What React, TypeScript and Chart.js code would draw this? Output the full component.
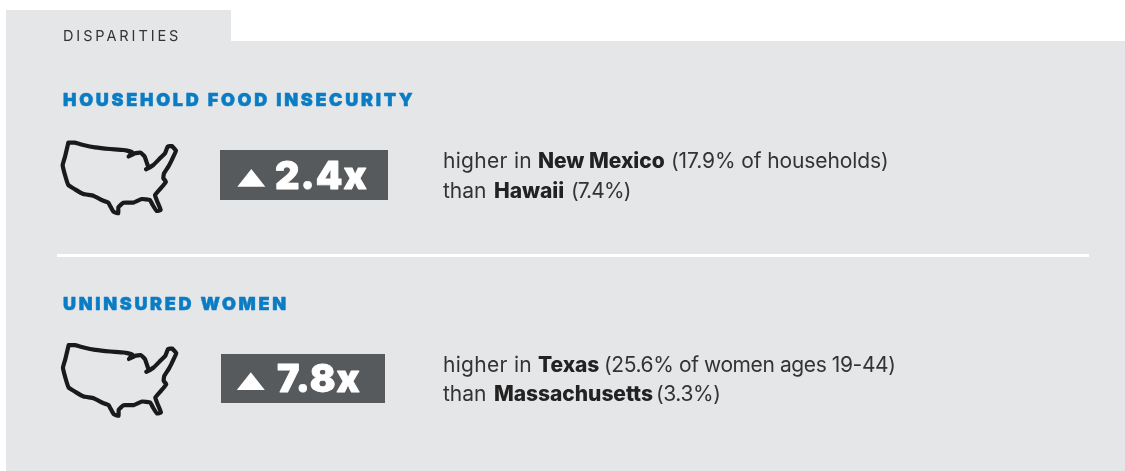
import React, { useEffect, useRef } from "react";
import { Chart, registerables } from "chart.js";

Chart.register(...registerables);

// ---- content ----
const sectionTitle = "DISPARITIES";
const headings = ["HOUSEHOLD FOOD INSECURITY", "UNINSURED WOMEN"];
const ratios = ["2.4x", "7.8x"];
const highRegions = ["New Mexico", "Texas"];
const highValues = ["(17.9% of households)", "(25.6% of women ages 19-44)"];
const lowRegions = ["Hawaii", "Massachusetts"];
const lowValues = ["(7.4%)", "(3.3%)"];

// outline of the contiguous US, in the map's own units
const outlineX = [85,105,130,165,210,250,276,266,285,302,314,320,325,318,340,360,375,383,395,408,400,393,385,372,370,378,362,345,352,362,350,338,330,305,280,250,235,235,220,205,185,160,130,105,85,75,68,75,85];
const outlineY = [38,38,45,52,57,60,66,80,70,68,80,97,112,118,105,85,70,50,48,62,80,95,110,130,145,155,175,195,215,240,243,225,210,207,218,218,232,250,245,218,210,197,192,178,165,135,105,80,38];
const triangleX = [0, 14, 28, 0];
const triangleY = [17.7, 0, 17.7, 17.7];

// ---- layout (data units of the page-sized scales) ----
const mapOrigins = [[40, 130], [40.3, 332.5]];
const triangleOrigins = [[237.3, 169], [236.8, 372.3]];
const boxes = [[220, 150, 388, 200], [221, 354, 385, 403]];
const headingBase = [105.5, 309.5];
const ratioX = [275, 277];
const ratioBase = [189, 392];
const bodyBase = [[167.7, 197.7], [371.7, 400.7]];
const line1Starts = [[443, 538, 671], [443, 538, 604]];
const line2Starts = [[443, 494, 571], [443, 494, 656]];
const line1ValueSpacing = ["-0.1px", "-0.4px"];
const line2ValueSpacing = ["-0.9px", "-0.4px"];

const BODY = '"Inter", sans-serif';

function App() {
  const ref = useRef<HTMLCanvasElement>(null);
  useEffect(() => {
    document.body.style.margin = "0";
    const sheet: any = {
      id: "sheet",
      beforeDatasetsDraw(chart: any) {
        const { ctx, scales } = chart;
        const X = (v: number) => scales.x.getPixelForValue(v);
        const Y = (v: number) => scales.y.getPixelForValue(v);
        const rect = (a: number, b: number, c: number, d: number, col: string) => {
          ctx.fillStyle = col;
          ctx.fillRect(X(a), Y(b), X(c) - X(a), Y(d) - Y(b));
        };
        ctx.save();
        rect(6, 10, 231, 41, "#e5e6e8");
        rect(6, 41, 1125, 471, "#e5e6e8");
        rect(57, 254, 1089, 257, "#ffffff");
        boxes.forEach((b) => rect(b[0], b[1], b[2], b[3], "#575a5c"));
        ctx.restore();
      },
      afterDatasetsDraw(chart: any) {
        const { ctx, scales } = chart;
        const X = (v: number) => scales.x.getPixelForValue(v);
        const Y = (v: number) => scales.y.getPixelForValue(v);
        const text = (s: string, x: number, y: number, font: string, col: string, ls = "0px", heavy = 0) => {
          ctx.font = font;
          (ctx as any).letterSpacing = ls;
          ctx.fillStyle = col;
          if (heavy) {
            ctx.strokeStyle = col;
            ctx.lineWidth = heavy;
            ctx.lineJoin = "round";
            ctx.strokeText(s, X(x), Y(y));
          }
          ctx.fillText(s, X(x), Y(y));
        };
        const line = (lead: string, bold: string, value: string, starts: number[], y: number, ls: string) => {
          text(lead, starts[0], y, `400 21px ${BODY}`, "#333333", lead === "higher in" ? "0.3px" : "0px");
          text(bold, starts[1], y, `800 21px ${BODY}`, "#222222", "-0.05px");
          text(value, starts[2], y, `400 21px ${BODY}`, "#333333", ls);
        };
        ctx.save();
        ctx.textBaseline = "alphabetic";
        text(sectionTitle, 63, 40.5, `400 14.5px ${BODY}`, "#333333", "2.9px");
        headings.forEach((h, i) => {
          text(h, 63, headingBase[i], `900 18px ${BODY}`, "#0a7cc4", "2.7px", 0.5);
          text(ratios[i], ratioX[i], ratioBase[i], `900 38px ${BODY}`, "#ffffff", "1px", 0.8);
          line("higher in", highRegions[i], highValues[i], line1Starts[i], bodyBase[i][0], line1ValueSpacing[i]);
          line("than", lowRegions[i], lowValues[i], line2Starts[i], bodyBase[i][1], line2ValueSpacing[i]);
        });
        ctx.restore();
      },
    };
    const outline = (o: number[]) => outlineX.map((x, i) => ({ x: o[0] + x / 3, y: o[1] + outlineY[i] / 3 }));
    const tri = (o: number[]) => triangleX.map((x, i) => ({ x: o[0] + x, y: o[1] + triangleY[i] }));
    const chart = new Chart(ref.current as HTMLCanvasElement, {
      type: "scatter",
      data: {
        datasets: [
          ...mapOrigins.map((o) => ({
            data: outline(o), showLine: true, pointRadius: 0, borderColor: "#1a1a1a", borderWidth: 4.2,
            borderJoinStyle: "round", borderCapStyle: "round", tension: 0.1,
          })),
          ...triangleOrigins.map((o) => ({
            data: tri(o), showLine: true, pointRadius: 0, borderWidth: 0, borderColor: "#ffffff",
            backgroundColor: "#ffffff", fill: "shape", tension: 0,
          })),
        ] as any,
      },
      options: {
        animation: false,
        responsive: false,
        layout: { padding: 0 },
        plugins: { legend: { display: false }, tooltip: { enabled: false } },
        scales: {
          x: { type: "linear", display: false, min: 0, max: 1125 },
          y: { type: "linear", display: false, min: 0, max: 471, reverse: true },
        },
      } as any,
      plugins: [sheet],
    });
    return () => chart.destroy();
  }, []);
  return <canvas ref={ref} width={1125} height={471} style={{ display: "block" }} />;
}

export default App;
